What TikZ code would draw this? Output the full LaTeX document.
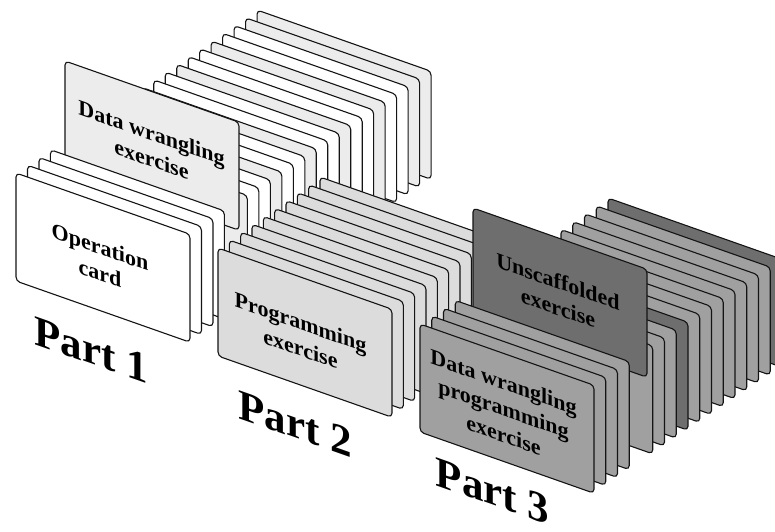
\documentclass[tikz,border=0pt]{standalone}
\usepackage{fontspec}
\setmainfont{Liberation Serif}
\definecolor{paleA}{HTML}{ECECEC}
\definecolor{paleB}{HTML}{DCDCDC}
\definecolor{midC}{HTML}{A0A0A0}
\definecolor{darkC}{HTML}{6E6E6E}
\definecolor{edge}{HTML}{141414}
% one card: top-left corner given in top-down page units, sheared along the row
\newcommand\drawcard[3]{%
  \draw[card, fill=#3, shift={(#1,531-(#2))}, yslant=-0.352] (0,0) rectangle (174,-108);}
\begin{document}
\begin{tikzpicture}[x=1pt,y=1pt,
  card/.style={draw=edge, line width=1.1pt, rounded corners=4pt},
  cardtext/.style={font=\fontsize{22}{26.5}\selectfont\bfseries, align=center,
                   yslant=-0.352, inner sep=0pt},
  partlabel/.style={font=\fontsize{43}{50}\selectfont\bfseries, anchor=base,
                    yslant=-0.352, inner sep=0pt}]
\clip (0,0) rectangle (775,531);

% ---------- Part 1: operation cards and data wrangling exercises ----------
\foreach \k/\c in {21/paleA,20/paleA,19/white,18/white,17/paleA,16/white,15/white,
                   14/paleA,13/white,12/white,11/paleA,10/white,9/white,8/paleA,
                   7/white,6/white,5/paleA}
  {\drawcard{16+11.48*\k}{173-7.76*\k}{\c}}
\drawcard{65}{61}{paleA}
\node[cardtext] (dw) at (151.5,385) {Data wrangling\\exercise};
\foreach \k in {3,2,1,0}
  {\drawcard{16+11.48*\k}{173-7.76*\k}{white}}
\node[cardtext] (op) at (100,271) {Operation\\card};
\node[partlabel] (p1) at (91,167) {Part 1};

% ---------- Part 2: programming exercises ----------
\foreach \k in {9,8,...,0}
  {\drawcard{218+11.33*\k}{248-7.89*\k}{paleB}}
\node[cardtext] (prog) at (300.5,195.5) {Programming\\exercise};
\node[partlabel] (p2) at (295,93) {Part 2};

% ---------- Part 3: data wrangling programming and unscaffolded exercises ----------
\foreach \k/\c in {16/darkC,15/midC,14/midC,13/midC,12/midC,11/midC,10/midC,9/midC,
                   8/darkC,7/midC,6/midC,5/midC}
  {\drawcard{420+11.75*\k}{324-7.875*\k}{\c}}
\drawcard{473}{208}{darkC}
\node[cardtext] (unsc) at (558,236.5) {Unscaffolded\\exercise};
\foreach \k in {3,2,1,0}
  {\drawcard{420+11.75*\k}{324-7.875*\k}{midC}}
\node[cardtext] (dwp) at (503.5,122.5) {Data wrangling\\programming\\exercise};
\node[partlabel] (p3) at (492.5,26) {Part 3};
\end{tikzpicture}
\end{document}
